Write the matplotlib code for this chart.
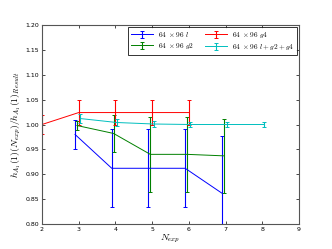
import matplotlib
matplotlib.use("Agg")
import matplotlib.pyplot as plt
import numpy as np

plt.rcParams['mathtext.fontset'] = 'cm'
plt.rcParams['xtick.direction'] = 'in'
plt.rcParams['ytick.direction'] = 'in'
plt.rcParams['xtick.top'] = True
plt.rcParams['ytick.right'] = True

# Data
n_l = [3, 4, 5, 6, 7]
h_l = [0.980, 0.912, 0.912, 0.912, 0.862]
e_l = [0.030, 0.078, 0.078, 0.078, 0.115]

n_g2 = [3, 4, 5, 6, 7]
h_g2 = [0.998, 0.982, 0.940, 0.940, 0.937]
e_g2 = [0.010, 0.038, 0.075, 0.075, 0.075]

n_g4 = [2, 3, 4, 5, 6]
h_g4 = [1.000, 1.024, 1.024, 1.024, 1.024]
e_g4 = [0.019, 0.025, 0.025, 0.025, 0.025]

n_all = [3, 4, 5, 6, 7, 8]
h_all = [1.012, 1.004, 1.001, 1.000, 1.000, 1.000]
e_all = [0.009, 0.008, 0.007, 0.006, 0.006, 0.006]

labels = [r'$64\ \times 96\ l$', r'$64\ \times 96\ g2$',
          r'$64\ \times 96\ g4$', r'$64\ \times 96\ l+g2+g4$']

fig = plt.figure(figsize=(3.32, 2.49), dpi=100)
ax = fig.add_axes([0.1265, 0.1004, 0.774, 0.7992])

kw = dict(lw=0.7, elinewidth=0.8, capsize=1.6, capthick=0.7)
ax.errorbar(np.array(n_l) - 0.1, h_l, yerr=e_l, color='b', label=labels[0], **kw)
ax.errorbar(np.array(n_g2) - 0.05, h_g2, yerr=e_g2, color='g', label=labels[1], **kw)
ax.errorbar(np.array(n_g4), h_g4, yerr=e_g4, color='r', label=labels[2], **kw)
ax.errorbar(np.array(n_all) + 0.04, h_all, yerr=e_all, color='c', label=labels[3], **kw)

ax.set_xlim(2, 9)
ax.set_ylim(0.80, 1.20)
ax.set_xticks(range(2, 10))
ax.set_yticks(np.arange(0.80, 1.2001, 0.05))
ax.set_yticklabels(['%.2f' % v for v in np.arange(0.80, 1.2001, 0.05)])
ax.tick_params(labelsize=4.5, length=2.5, width=0.5, pad=2)
for s in ax.spines.values():
    s.set_linewidth(0.8)
    s.set_color('#555555')

ax.set_xlabel(r'$N_{exp}$', fontsize=7, labelpad=1)
ax.set_ylabel(r'$h_{A_1}(1)(N_{exp})/h_{A_1}(1)_{Result}$', fontsize=7, labelpad=2)

leg = ax.legend(loc='upper right', ncol=2, fontsize=5.3, frameon=True, fancybox=False,
                borderaxespad=0.3, handlelength=3.0, columnspacing=1.6,
                handletextpad=0.6, borderpad=0.35, labelspacing=0.3)
leg.get_frame().set_edgecolor('black')
leg.get_frame().set_linewidth(0.7)

fig.savefig('out.png', dpi=100)
